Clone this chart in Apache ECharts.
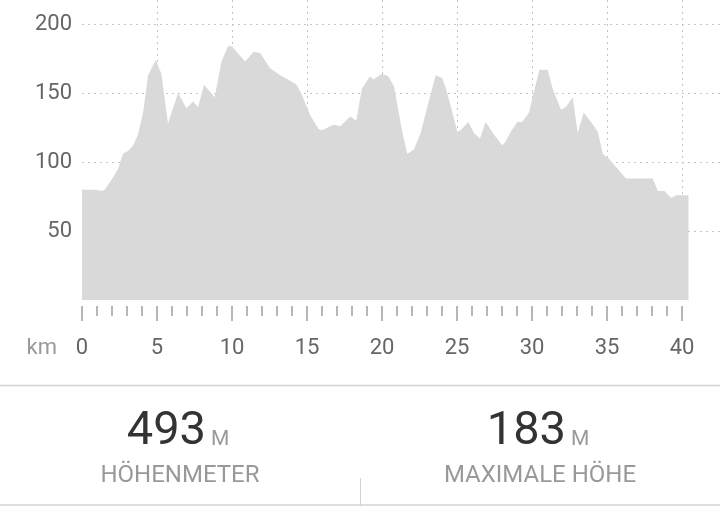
<!DOCTYPE html>
<html>
<head>
<meta charset="utf-8">
<title>Höhenprofil</title>
<script src="https://cdn.jsdelivr.net/npm/echarts@6/dist/echarts.min.js"></script>
<style>
  html, body { margin: 0; padding: 0; background: #fff; }
  #chart { width: 720px; height: 506px; }
</style>
</head>
<body>
<div id="chart"></div>
<script>
var distKm = [0, 0.96, 1.29, 1.51, 1.96, 2.4, 2.73, 3.07, 3.4, 3.73,
  4.07, 4.4, 4.91, 5.29, 5.47, 5.73, 6.4, 6.96, 7.4, 7.73,
  8.13, 8.84, 9.29, 9.73, 10.0, 10.2, 10.87, 11.2, 11.42, 11.87,
  12.53, 13.2, 13.87, 14.3, 14.64, 15.2, 15.76, 15.98, 16.76, 17.2,
  17.87, 18.27, 18.64, 19.16, 19.42, 19.98, 20.42, 20.78, 21.0, 21.33,
  21.67, 22.1, 22.56, 23.0, 23.56, 24.0, 24.33, 24.67, 25.0, 25.22,
  25.73, 26.11, 26.51, 26.89, 27.44, 28.0, 28.22, 28.56, 29.0, 29.33,
  29.78, 30.11, 30.47, 31.02, 31.36, 31.91, 32.24, 32.69, 33.02, 33.42,
  33.91, 34.36, 34.69, 35.13, 35.69, 36.24, 38.02, 38.36, 38.8, 39.24,
  39.58, 40.4]
var elevation = [80, 80, 79, 80, 87, 95, 106, 108, 112, 120,
  136, 163, 174, 164, 149, 128, 150, 139, 144, 140,
  156, 147, 173, 184, 184, 181, 173, 177, 180, 179,
  168, 163, 159, 156, 149, 134, 124, 123, 127, 126,
  133, 130, 153, 162, 160, 164, 162, 155, 142, 122,
  106, 109, 121, 140, 163, 161, 150, 136, 122, 123,
  129, 121, 117, 129, 120, 112, 115, 122, 129, 129,
  136, 151, 167, 167, 153, 138, 140, 147, 121, 136,
  129, 122, 106, 102, 95, 88, 88, 79, 79, 74,
  76, 76]

// Kennzahlen unten
var statValues = ['493', '183']
var statUnits = ['M', 'M']
var statLabels = ['HÖHENMETER', 'MAXIMALE HÖHE']

var FONT = 'Roboto, "Noto Sans", sans-serif'
var gridLine = { type: [2, 4], color: '#c4c4c4', width: 1 }

var points = distKm.map(function (d, i) { return [d, elevation[i]] })

var statGraphics = []
var centers = [180, 540]
centers.forEach(function (cx, i) {
  statGraphics.push({
    type: 'text', x: cx + 26, y: 432,
    style: { text: statValues[i], font: '47px ' + FONT, fill: '#333', align: 'right', verticalAlign: 'middle' }
  })
  statGraphics.push({
    type: 'text', x: cx + 31, y: 440,
    style: { text: statUnits[i], font: '21px ' + FONT, fill: '#999', align: 'left', verticalAlign: 'middle' }
  })
  statGraphics.push({
    type: 'text', x: cx, y: 476,
    style: { text: statLabels[i], font: '24px ' + FONT, fill: '#999', align: 'center', verticalAlign: 'middle' }
  })
})

var myChart = echarts.init(document.getElementById('chart'))
myChart.setOption({
  animation: false,
  textStyle: { fontFamily: FONT },
  grid: [
    // senkrechte Linien alle 5 km
    { left: 82, right: 38, top: 0, bottom: 206 },
    // Profilfläche und waagrechte Linien bis zum rechten Rand
    { left: 82, right: 0, top: 0, bottom: 206 },
    // km-Teilung, etwas unter der Fläche
    { left: 82, right: 38, top: 6, bottom: 200 }
  ],
  xAxis: [
    {
      type: 'value', gridIndex: 0, min: 0, max: 40, interval: 5,
      axisLine: { show: false }, axisTick: { show: false }, axisLabel: { show: false },
      splitLine: { show: true, showMinLine: false, lineStyle: gridLine }
    },
    { type: 'value', gridIndex: 1, min: 0, max: 42.5, show: false },
    {
      type: 'value', gridIndex: 2, min: 0, max: 40, interval: 5,
      axisLine: { show: false },
      axisTick: { show: true, length: 15, lineStyle: { color: '#a0a0a0', width: 1.5 } },
      minorTick: { show: true, splitNumber: 5, length: 10, lineStyle: { color: '#a0a0a0', width: 1.5 } },
      axisLabel: { margin: 31, fontSize: 22, color: '#666' },
      splitLine: { show: false }
    }
  ],
  yAxis: [
    {
      type: 'value', gridIndex: 0, min: 0, max: 217.5, interval: 50,
      axisLine: { show: false },
      axisTick: { show: false },
      axisLabel: { margin: 10, fontSize: 22, color: '#666', showMinLabel: false, showMaxLabel: false },
      splitLine: { show: false }
    },
    {
      type: 'value', gridIndex: 1, min: 0, max: 217.5, interval: 50,
      axisLine: { show: false },
      axisTick: { show: false },
      axisLabel: { show: false },
      splitLine: { show: true, showMinLine: false, showMaxLine: false, lineStyle: gridLine }
    },
    { type: 'value', gridIndex: 2, min: 0, max: 1, show: false }
  ],
  series: [
    {
      name: 'Höhe',
      type: 'line',
      xAxisIndex: 1,
      yAxisIndex: 1,
      data: points,
      showSymbol: false,
      silent: true,
      lineStyle: { width: 0 },
      areaStyle: { color: '#d9d9d9', opacity: 1 }
    }
  ],
  graphic: [
    {
      type: 'text', x: 57, y: 348,
      style: { text: 'km', font: '22px ' + FONT, fill: '#999', align: 'right', verticalAlign: 'middle' }
    },
    { type: 'line', shape: { x1: 0, y1: 385.5, x2: 720, y2: 385.5 }, style: { stroke: '#d4d4d4', lineWidth: 1.5 } },
    { type: 'line', shape: { x1: 0, y1: 505, x2: 720, y2: 505 }, style: { stroke: '#d4d4d4', lineWidth: 1.5 } },
    { type: 'line', shape: { x1: 360.5, y1: 478, x2: 360.5, y2: 506 }, style: { stroke: '#d4d4d4', lineWidth: 1 } }
  ].concat(statGraphics)
})
</script>
</body>
</html>
